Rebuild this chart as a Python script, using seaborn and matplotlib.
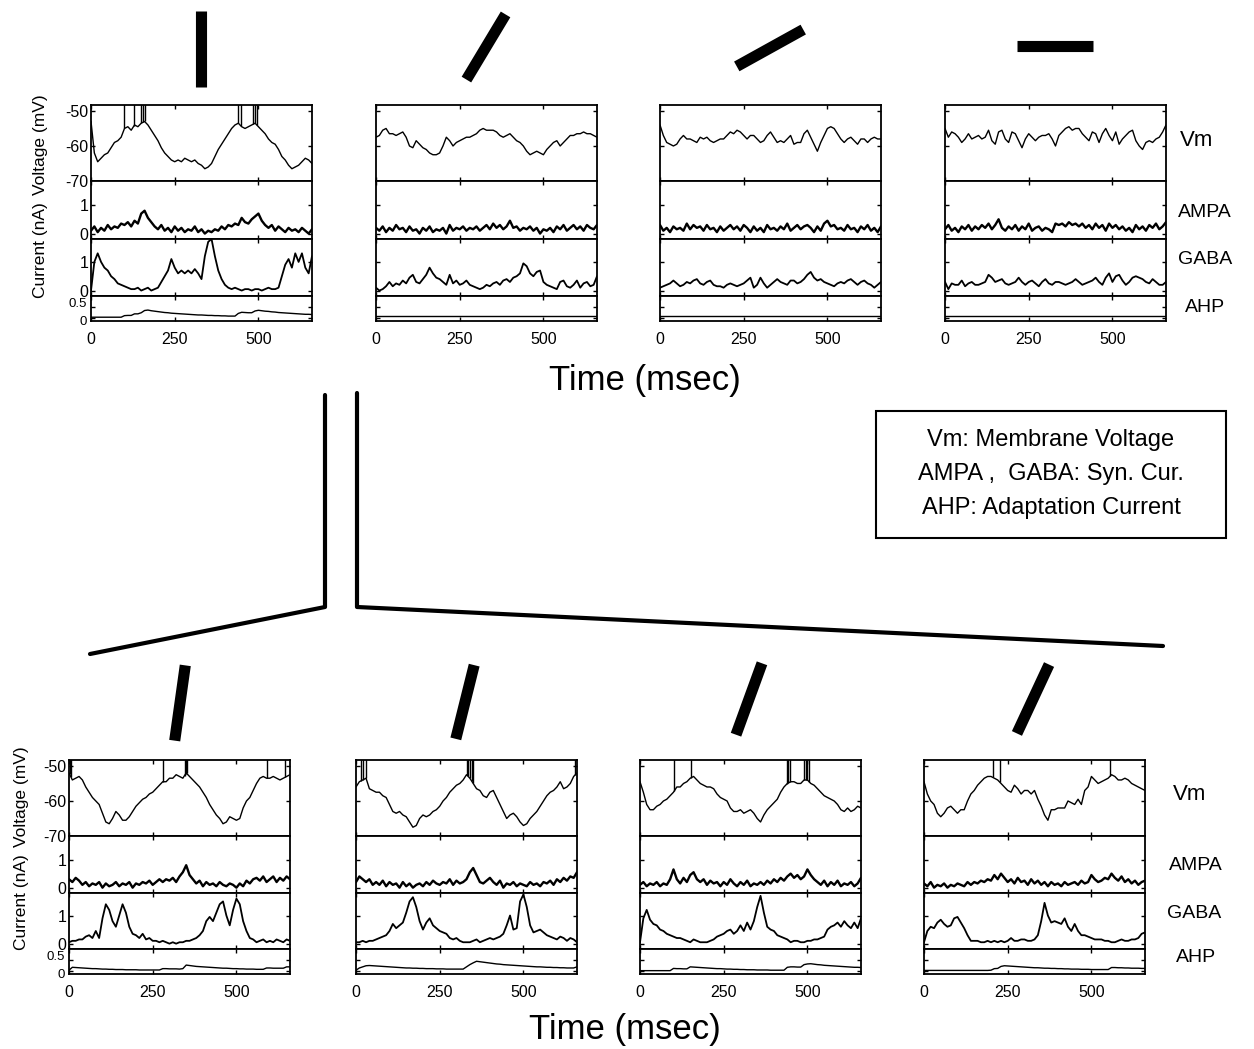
import numpy as np
import seaborn as sns
import matplotlib.pyplot as plt
from matplotlib.lines import Line2D
from matplotlib.patches import Rectangle

sns.set_style("ticks")
plt.rcParams['font.family'] = ['Liberation Sans', 'DejaVu Sans']
plt.rcParams['text.color'] = 'black'
plt.rcParams['xtick.color'] = 'black'
plt.rcParams['ytick.color'] = 'black'

# sampling grid of the traces (ms)
time_ms = np.arange(0, 661, 10)

# ---------------- top row (orientation changes) ----------------
top1_vm = [-53, -62, -64.5, -63.5, -62.5, -62, -60.5, -59, -58.5, -57.5,
           -55, -54.5, -55.5, -54, -54.5, -53.5, -53, -54, -55.5, -57,
           -58.5, -60.5, -62, -63, -64, -64.5, -64, -64.5, -63.5, -64,
           -64.5, -64, -65, -65.5, -66.5, -66, -65, -63, -61, -59.5,
           -58, -56.5, -55, -54, -53.5, -54.5, -55, -54.5, -54, -53.5,
           -54.5, -55.5, -56.5, -58, -59, -59.5, -61, -63, -64, -65.5,
           -66.5, -66, -65.5, -64.5, -63.5, -64, -65]
top1_ampa = [0.1, 0.25, 0.05, 0.2, 0.1, 0.3, 0.15, 0.25, 0.2, 0.35,
             0.3, 0.4, 0.25, 0.45, 0.35, 0.7, 0.8, 0.55, 0.4, 0.25,
             0.15, 0.3, 0.1, 0.2, 0.05, 0.25, 0.1, 0.2, 0.05, 0.15,
             0.1, 0.25, 0.05, 0.15, 0.0, 0.1, 0.05, 0.15, 0.1, 0.25,
             0.15, 0.3, 0.25, 0.35, 0.3, 0.55, 0.4, 0.35, 0.5, 0.6,
             0.7, 0.45, 0.3, 0.2, 0.3, 0.1, 0.25, 0.15, 0.05, 0.2,
             0.1, 0.15, 0.05, 0.2, 0.1, 0.0, 0.15]
top1_gaba = [0.0, 1.0, 1.3, 1.0, 0.8, 0.7, 0.5, 0.4, 0.25, 0.2,
             0.15, 0.1, 0.05, 0.05, 0.1, 0.0, 0.05, 0.1, 0.0, 0.05,
             0.1, 0.3, 0.5, 0.7, 1.1, 0.8, 0.6, 0.7, 0.6, 0.7,
             0.6, 0.75, 0.6, 0.4, 1.2, 1.7, 1.8, 1.2, 0.7, 0.4,
             0.2, 0.1, 0.05, 0.1, 0.05, 0.0, 0.05, 0.05, 0.0, 0.05,
             0.05, 0.0, 0.05, 0.1, 0.05, 0.05, 0.1, 0.5, 0.9, 1.1,
             0.8, 1.3, 1.0, 1.3, 0.8, 0.6, 1.2]
top1_ahp = [0.05, 0.05, 0.05, 0.05, 0.05, 0.05, 0.05, 0.05, 0.05, 0.05,
            0.12, 0.13, 0.13, 0.2, 0.2, 0.25, 0.35, 0.37, 0.34, 0.32,
            0.3, 0.28, 0.26, 0.25, 0.23, 0.22, 0.21, 0.2, 0.19, 0.18,
            0.17, 0.16, 0.15, 0.15, 0.14, 0.13, 0.13, 0.12, 0.12, 0.11,
            0.11, 0.1, 0.1, 0.1, 0.22, 0.27, 0.26, 0.25, 0.25, 0.33,
            0.36, 0.34, 0.32, 0.31, 0.29, 0.28, 0.26, 0.25, 0.24, 0.23,
            0.22, 0.21, 0.2, 0.19, 0.18, 0.18, 0.17]
top1_spikes = [100, 128, 150, 155, 160, 440, 448, 484, 490, 496]

top2_vm = [-57.5, -57, -55.5, -55, -56.5, -56.5, -57, -56.5, -56, -57.5,
           -60, -60.5, -58.5, -59.5, -60.5, -61, -62, -62.5, -62.5, -62,
           -60, -57.5, -58.5, -60, -59, -58.5, -58, -57.5, -57.5, -57,
           -56.5, -55.5, -55, -55.5, -55.5, -55.5, -56, -57, -57.5, -57,
           -56.5, -57.5, -58.5, -59, -60, -61.5, -62.5, -62, -61.5, -62,
           -62.5, -61, -60, -59, -58.5, -60, -59, -58, -57, -57,
           -56.5, -56.5, -56, -56.5, -56.5, -57, -57.5]
top2_ampa = [0.2, 0.1, 0.25, 0.05, 0.2, 0.1, 0.3, 0.15, 0.2, 0.05,
             0.25, 0.1, 0.15, 0.0, 0.2, 0.1, 0.25, 0.05, 0.15, 0.1,
             0.2, 0.0, 0.3, 0.1, 0.2, 0.15, 0.25, 0.1, 0.2, 0.15,
             0.25, 0.1, 0.2, 0.3, 0.15, 0.35, 0.2, 0.3, 0.15, 0.25,
             0.45, 0.2, 0.25, 0.1, 0.2, 0.15, 0.25, 0.1, 0.2, 0.0,
             0.15, 0.1, 0.2, 0.05, 0.25, 0.15, 0.3, 0.1, 0.2, 0.3,
             0.15, 0.25, 0.1, 0.3, 0.2, 0.15, 0.3]
top2_gaba = [0.1, 0.0, 0.05, 0.15, 0.3, 0.15, 0.25, 0.2, 0.35, 0.25,
             0.45, 0.55, 0.3, 0.25, 0.4, 0.55, 0.8, 0.6, 0.45, 0.4,
             0.3, 0.2, 0.55, 0.25, 0.35, 0.2, 0.25, 0.35, 0.2, 0.15,
             0.1, 0.05, 0.1, 0.2, 0.15, 0.25, 0.3, 0.2, 0.35, 0.4,
             0.3, 0.45, 0.5, 0.6, 0.95, 0.85, 0.6, 0.5, 0.65, 0.7,
             0.3, 0.2, 0.15, 0.1, 0.05, 0.3, 0.35, 0.15, 0.1, 0.2,
             0.35, 0.1, 0.25, 0.3, 0.15, 0.2, 0.5]
top2_ahp = [0.1, 0.1, 0.1, 0.1, 0.1, 0.1, 0.1, 0.1, 0.1, 0.1,
            0.1, 0.1, 0.1, 0.1, 0.1, 0.1, 0.1, 0.1, 0.1, 0.1,
            0.1, 0.1, 0.1, 0.1, 0.1, 0.1, 0.1, 0.1, 0.1, 0.1,
            0.1, 0.1, 0.1, 0.1, 0.1, 0.1, 0.1, 0.1, 0.1, 0.1,
            0.1, 0.1, 0.1, 0.1, 0.1, 0.1, 0.1, 0.1, 0.1, 0.1,
            0.1, 0.1, 0.1, 0.1, 0.1, 0.1, 0.1, 0.1, 0.1, 0.1,
            0.1, 0.1, 0.1, 0.1, 0.1, 0.1, 0.1]
top2_spikes = []

top3_vm = [-54, -57, -59, -59.5, -60, -59.5, -58, -57, -58, -58,
           -58.5, -59, -57.5, -58, -57.5, -58.5, -59, -58.5, -58, -58,
           -57, -56, -56.5, -55.5, -56, -57, -58, -57, -57, -58,
           -59, -58.5, -57, -56, -57.5, -59, -58.5, -59, -58, -57,
           -59.5, -59, -59, -56.5, -55.5, -57.5, -59.5, -61.5, -59, -57,
           -55, -54.5, -55, -56.5, -58, -59, -58, -57.5, -58.5, -59.5,
           -58, -58, -59, -58, -57.5, -58, -58]
top3_ampa = [0.3, 0.1, 0.2, 0.05, 0.25, 0.15, 0.2, 0.1, 0.35, 0.15,
             0.3, 0.2, 0.25, 0.1, 0.3, 0.15, 0.2, 0.05, 0.25, 0.1,
             0.2, 0.3, 0.15, 0.25, 0.1, 0.3, 0.2, 0.05, 0.25, 0.1,
             0.2, 0.05, 0.3, 0.15, 0.2, 0.1, 0.25, 0.15, 0.35, 0.1,
             0.2, 0.3, 0.15, 0.25, 0.3, 0.2, 0.05, 0.25, 0.1, 0.35,
             0.45, 0.25, 0.3, 0.15, 0.2, 0.1, 0.3, 0.15, 0.2, 0.05,
             0.25, 0.15, 0.3, 0.1, 0.2, 0.05, 0.25]
top3_gaba = [0.1, 0.15, 0.2, 0.25, 0.35, 0.25, 0.15, 0.2, 0.3, 0.25,
             0.35, 0.4, 0.25, 0.2, 0.3, 0.35, 0.2, 0.15, 0.15, 0.1,
             0.2, 0.25, 0.2, 0.15, 0.2, 0.25, 0.35, 0.45, 0.1, 0.2,
             0.45, 0.25, 0.1, 0.2, 0.3, 0.4, 0.3, 0.25, 0.2, 0.35,
             0.35, 0.25, 0.3, 0.4, 0.55, 0.65, 0.45, 0.35, 0.4, 0.3,
             0.25, 0.2, 0.15, 0.25, 0.3, 0.25, 0.35, 0.4, 0.3, 0.2,
             0.3, 0.35, 0.25, 0.2, 0.1, 0.2, 0.3]
top3_ahp = [0.1, 0.1, 0.1, 0.1, 0.1, 0.1, 0.1, 0.1, 0.1, 0.1,
            0.1, 0.1, 0.1, 0.1, 0.1, 0.1, 0.1, 0.1, 0.1, 0.1,
            0.1, 0.1, 0.1, 0.1, 0.1, 0.1, 0.1, 0.1, 0.1, 0.1,
            0.1, 0.1, 0.1, 0.1, 0.1, 0.1, 0.1, 0.1, 0.1, 0.1,
            0.1, 0.1, 0.1, 0.1, 0.1, 0.1, 0.1, 0.1, 0.1, 0.1,
            0.1, 0.1, 0.1, 0.1, 0.1, 0.1, 0.1, 0.1, 0.1, 0.1,
            0.1, 0.1, 0.1, 0.1, 0.1, 0.1, 0.1]
top3_spikes = []

top4_vm = [-55, -57.5, -56, -56.5, -57.5, -59, -58, -56.5, -58, -57.5,
           -57, -58, -57.5, -55.5, -58.5, -59.5, -56, -55.5, -58, -59,
           -56, -56.5, -58.5, -60.5, -58, -56.5, -57.5, -58.5, -57.5, -57,
           -57, -56.5, -58, -60, -57, -56, -55, -54.5, -55.5, -55,
           -55, -56.5, -57.5, -58.5, -56, -56.5, -59, -56.5, -55, -57,
           -58.5, -56, -59.5, -58, -57, -56, -55.5, -58.5, -60, -61,
           -59, -58.5, -59, -58, -57.5, -56, -54]
top4_ampa = [0.15, 0.3, 0.1, 0.2, 0.05, 0.25, 0.15, 0.3, 0.1, 0.25,
             0.15, 0.3, 0.2, 0.35, 0.15, 0.3, 0.5, 0.2, 0.1, 0.25,
             0.15, 0.3, 0.1, 0.25, 0.15, 0.35, 0.1, 0.2, 0.25, 0.1,
             0.2, 0.15, 0.05, 0.35, 0.3, 0.35, 0.25, 0.4, 0.3, 0.35,
             0.25, 0.35, 0.2, 0.3, 0.15, 0.35, 0.2, 0.3, 0.1, 0.35,
             0.2, 0.3, 0.15, 0.25, 0.1, 0.2, 0.05, 0.3, 0.15, 0.25,
             0.1, 0.3, 0.2, 0.35, 0.15, 0.25, 0.4]
top4_gaba = [0.3, 0.05, 0.25, 0.2, 0.2, 0.35, 0.15, 0.25, 0.3, 0.2,
             0.2, 0.25, 0.3, 0.55, 0.45, 0.3, 0.35, 0.4, 0.25, 0.2,
             0.25, 0.3, 0.45, 0.3, 0.2, 0.3, 0.35, 0.25, 0.15, 0.3,
             0.4, 0.25, 0.2, 0.3, 0.3, 0.25, 0.2, 0.25, 0.3, 0.4,
             0.3, 0.2, 0.25, 0.3, 0.35, 0.45, 0.3, 0.2, 0.45, 0.6,
             0.3, 0.5, 0.55, 0.35, 0.2, 0.3, 0.45, 0.5, 0.45, 0.4,
             0.3, 0.25, 0.4, 0.3, 0.2, 0.2, 0.3]
top4_ahp = [0.1, 0.1, 0.1, 0.1, 0.1, 0.1, 0.1, 0.1, 0.1, 0.1,
            0.1, 0.1, 0.1, 0.1, 0.1, 0.1, 0.1, 0.1, 0.1, 0.1,
            0.1, 0.1, 0.1, 0.1, 0.1, 0.1, 0.1, 0.1, 0.1, 0.1,
            0.1, 0.1, 0.1, 0.1, 0.1, 0.1, 0.1, 0.1, 0.1, 0.1,
            0.1, 0.1, 0.1, 0.1, 0.1, 0.1, 0.1, 0.1, 0.1, 0.1,
            0.1, 0.1, 0.1, 0.1, 0.1, 0.1, 0.1, 0.1, 0.1, 0.1,
            0.1, 0.1, 0.1, 0.1, 0.1, 0.1, 0.1]
top4_spikes = []

# ---------------- bottom row (position changes) ----------------
bot1_vm = [-52, -54, -53.5, -53, -54, -56, -57.5, -59, -60, -61,
           -63.5, -66, -66.5, -65, -63, -64, -65.5, -65.5, -64.5, -63,
           -61.5, -60.5, -59.5, -59, -58, -57.5, -56.5, -55.5, -54.5, -54.5,
           -53.5, -53.5, -52.5, -53, -53.5, -52, -53, -54, -55, -56,
           -57.5, -59, -61, -62.5, -64, -65, -66.5, -66, -64.5, -65,
           -65.5, -65, -62, -60, -59, -57, -55, -53.5, -53, -53.5,
           -53.5, -53, -53.5, -54, -53.5, -53, -52.5]
bot1_ampa = [0.3, 0.2, 0.35, 0.25, 0.1, 0.2, 0.05, 0.15, 0.1, 0.2,
             0.0, 0.15, 0.05, 0.1, 0.2, 0.05, 0.15, 0.1, 0.2, 0.0,
             0.15, 0.1, 0.2, 0.15, 0.25, 0.1, 0.2, 0.3, 0.2, 0.3,
             0.25, 0.35, 0.2, 0.4, 0.55, 0.8, 0.45, 0.3, 0.15, 0.25,
             0.05, 0.2, 0.1, 0.15, 0.05, 0.2, 0.1, 0.05, 0.15, 0.1,
             0.0, 0.15, 0.05, 0.25, 0.15, 0.3, 0.35, 0.25, 0.4, 0.2,
             0.3, 0.4, 0.2, 0.35, 0.25, 0.4, 0.3]
bot1_gaba = [0.05, 0.1, 0.1, 0.15, 0.15, 0.25, 0.3, 0.2, 0.45, 0.2,
             0.9, 1.4, 1.2, 0.8, 0.6, 1.0, 1.4, 1.1, 0.6, 0.35,
             0.3, 0.2, 0.35, 0.15, 0.2, 0.1, 0.1, 0.05, 0.1, 0.05,
             0.0, 0.05, 0.0, 0.05, 0.05, 0.1, 0.1, 0.15, 0.2, 0.3,
             0.45, 0.8, 0.95, 0.8, 1.1, 1.4, 1.5, 1.0, 0.65, 1.2,
             1.6, 1.4, 0.8, 0.45, 0.2, 0.15, 0.05, 0.1, 0.15, 0.05,
             0.1, 0.05, 0.15, 0.1, 0.05, 0.15, 0.1]
bot1_ahp = [0.05, 0.18, 0.17, 0.16, 0.15, 0.14, 0.13, 0.12, 0.12, 0.11,
            0.1, 0.1, 0.09, 0.09, 0.08, 0.08, 0.08, 0.07, 0.07, 0.07,
            0.07, 0.06, 0.06, 0.06, 0.06, 0.06, 0.06, 0.06, 0.12, 0.12,
            0.11, 0.11, 0.11, 0.1, 0.12, 0.28, 0.26, 0.24, 0.22, 0.21,
            0.2, 0.19, 0.18, 0.17, 0.16, 0.15, 0.14, 0.14, 0.13, 0.12,
            0.12, 0.11, 0.11, 0.1, 0.1, 0.1, 0.09, 0.09, 0.09, 0.15,
            0.15, 0.14, 0.14, 0.14, 0.14, 0.2, 0.2]
bot1_spikes = [2, 6, 282, 345, 348, 351, 590, 645]

bot2_vm = [-56, -54.5, -54, -53.5, -56.5, -57, -57.5, -57.5, -58.5, -59,
           -61, -63, -63.5, -63, -64, -64.5, -66, -67.5, -67, -65,
           -64, -64.5, -64, -63, -62.5, -61.5, -60, -59, -57.5, -56.5,
           -55.5, -55, -54, -52.5, -53.5, -55, -56.5, -57, -58.5, -59,
           -57.5, -57, -59, -61, -63, -65, -64, -63.5, -64.5, -66,
           -67, -66.5, -65, -64, -63, -61.5, -60, -58.5, -57.5, -57,
           -56, -54.5, -56.5, -56, -55, -53, -52]
bot2_ampa = [0.2, 0.4, 0.3, 0.2, 0.3, 0.1, 0.2, 0.1, 0.25, 0.05,
             0.2, 0.1, 0.15, 0.0, 0.2, 0.05, 0.15, 0.0, 0.1, 0.15,
             0.05, 0.2, 0.1, 0.25, 0.15, 0.1, 0.2, 0.15, 0.3, 0.1,
             0.25, 0.15, 0.2, 0.3, 0.55, 0.7, 0.45, 0.2, 0.15, 0.25,
             0.35, 0.2, 0.1, 0.25, 0.0, 0.15, 0.1, 0.2, 0.05, 0.15,
             0.1, 0.05, 0.2, 0.1, 0.15, 0.05, 0.2, 0.15, 0.25, 0.1,
             0.3, 0.2, 0.35, 0.25, 0.4, 0.35, 0.55]
bot2_gaba = [0.05, 0.05, 0.1, 0.05, 0.1, 0.1, 0.15, 0.2, 0.25, 0.3,
             0.45, 0.7, 0.55, 0.65, 0.75, 1.1, 1.5, 1.65, 1.3, 0.8,
             0.5, 0.75, 0.9, 0.65, 0.55, 0.45, 0.4, 0.35, 0.2, 0.15,
             0.2, 0.1, 0.05, 0.05, 0.05, 0.1, 0.15, 0.05, 0.1, 0.15,
             0.2, 0.15, 0.2, 0.25, 0.35, 0.65, 1.0, 0.5, 0.55, 1.5,
             1.75, 1.3, 0.65, 0.4, 0.45, 0.5, 0.4, 0.3, 0.25, 0.2,
             0.15, 0.25, 0.2, 0.1, 0.2, 0.15, 0.05]
bot2_ahp = [0.05, 0.15, 0.2, 0.25, 0.26, 0.25, 0.24, 0.23, 0.22, 0.21,
            0.2, 0.19, 0.18, 0.17, 0.16, 0.15, 0.15, 0.14, 0.14, 0.13,
            0.13, 0.12, 0.12, 0.12, 0.11, 0.11, 0.11, 0.1, 0.1, 0.1,
            0.1, 0.1, 0.1, 0.2, 0.3, 0.38, 0.45, 0.43, 0.41, 0.39,
            0.37, 0.35, 0.33, 0.32, 0.3, 0.29, 0.28, 0.27, 0.26, 0.25,
            0.24, 0.23, 0.22, 0.21, 0.2, 0.2, 0.19, 0.18, 0.18, 0.17,
            0.17, 0.16, 0.16, 0.15, 0.15, 0.15, 0.2]
bot2_spikes = [15, 22, 30, 330, 335, 340, 345, 350, 655]

bot3_vm = [-54.5, -57.5, -61, -62.5, -62.5, -61.5, -61, -60, -59.5, -58.5,
           -57.5, -56, -56, -55, -54.5, -53.5, -53, -54, -55, -55.5,
           -56, -56, -56.5, -58, -59, -59.5, -60, -62, -63, -63,
           -62.5, -63.5, -63, -62.5, -63.5, -65, -66, -64, -62.5, -61.5,
           -60.5, -59.5, -57.5, -56, -55, -54.5, -54.5, -55, -55, -54,
           -54, -55, -55.5, -56.5, -57.5, -58.5, -59, -59.5, -60, -61,
           -62.5, -63, -62, -63, -62.5, -61.5, -62]
bot3_ampa = [0.1, 0.2, 0.05, 0.15, 0.1, 0.2, 0.05, 0.15, 0.1, 0.3,
             0.65, 0.3, 0.15, 0.35, 0.2, 0.45, 0.55, 0.3, 0.2, 0.3,
             0.1, 0.25, 0.15, 0.2, 0.05, 0.2, 0.1, 0.3, 0.15, 0.05,
             0.2, 0.1, 0.25, 0.05, 0.15, 0.1, 0.2, 0.1, 0.25, 0.15,
             0.3, 0.2, 0.35, 0.25, 0.4, 0.5, 0.35, 0.45, 0.3, 0.4,
             0.65, 0.45, 0.3, 0.2, 0.1, 0.25, 0.05, 0.2, 0.1, 0.25,
             0.05, 0.15, 0.1, 0.2, 0.05, 0.15, 0.35]
bot3_gaba = [0.05, 0.9, 1.2, 0.85, 0.7, 0.65, 0.5, 0.45, 0.35, 0.3,
             0.25, 0.2, 0.2, 0.15, 0.1, 0.05, 0.15, 0.1, 0.05, 0.05,
             0.05, 0.1, 0.15, 0.25, 0.3, 0.35, 0.45, 0.5, 0.35, 0.45,
             0.65, 0.45, 0.75, 0.5, 0.8, 1.3, 1.7, 1.1, 0.6, 0.5,
             0.45, 0.3, 0.25, 0.2, 0.15, 0.05, 0.1, 0.1, 0.05, 0.05,
             0.1, 0.1, 0.15, 0.15, 0.2, 0.25, 0.5, 0.6, 0.65, 0.75,
             0.6, 0.8, 0.65, 0.55, 0.75, 0.55, 0.9]
bot3_ahp = [0.03, 0.03, 0.03, 0.03, 0.03, 0.03, 0.03, 0.03, 0.03, 0.03,
            0.13, 0.12, 0.12, 0.11, 0.11, 0.2, 0.19, 0.18, 0.17, 0.16,
            0.15, 0.14, 0.13, 0.12, 0.12, 0.11, 0.1, 0.1, 0.09, 0.09,
            0.08, 0.08, 0.07, 0.07, 0.07, 0.06, 0.06, 0.06, 0.06, 0.05,
            0.05, 0.05, 0.05, 0.05, 0.18, 0.2, 0.2, 0.19, 0.19, 0.3,
            0.33, 0.34, 0.32, 0.3, 0.29, 0.27, 0.26, 0.25, 0.24, 0.23,
            0.22, 0.21, 0.2, 0.19, 0.18, 0.18, 0.17]
bot3_spikes = [102, 152, 438, 443, 448, 490, 495, 500, 505]

bot4_vm = [-54.5, -58, -60, -61, -63.5, -64.5, -63.5, -62, -61.5, -62.5,
           -63.5, -62.5, -62.5, -60, -58, -57, -55.5, -54.5, -53.5, -53,
           -53, -53.5, -54, -55, -56, -57, -57.5, -55.5, -56.5, -58,
           -57, -57, -58, -57, -59.5, -61.5, -64, -65.5, -62.5, -62.5,
           -62, -62, -62, -60, -60.5, -61, -59.5, -61, -57, -56,
           -53, -54, -55, -54.5, -54, -53.5, -52.5, -53, -54, -54,
           -53.5, -54, -55, -55.5, -56, -56.5, -57]
bot4_ampa = [0.15, 0.05, 0.2, 0.0, 0.1, 0.05, 0.15, 0.0, 0.1, 0.05,
             0.15, 0.1, 0.05, 0.2, 0.1, 0.2, 0.15, 0.25, 0.2, 0.3,
             0.25, 0.45, 0.3, 0.5, 0.35, 0.2, 0.3, 0.15, 0.35, 0.2,
             0.25, 0.1, 0.3, 0.15, 0.25, 0.1, 0.2, 0.05, 0.2, 0.1,
             0.15, 0.05, 0.2, 0.1, 0.15, 0.2, 0.1, 0.25, 0.15, 0.2,
             0.45, 0.3, 0.2, 0.25, 0.35, 0.3, 0.5, 0.35, 0.25, 0.4,
             0.2, 0.3, 0.15, 0.25, 0.1, 0.2, 0.25]
bot4_gaba = [0.05, 0.45, 0.6, 0.55, 0.75, 0.85, 0.7, 0.6, 0.65, 0.9,
             0.95, 0.75, 0.55, 0.3, 0.1, 0.1, 0.1, 0.05, 0.05, 0.1,
             0.05, 0.1, 0.05, 0.1, 0.05, 0.1, 0.2, 0.1, 0.1, 0.15,
             0.15, 0.1, 0.1, 0.15, 0.3, 0.8, 1.45, 1.0, 0.75, 0.8,
             0.75, 0.7, 0.9, 0.6, 0.45, 0.7, 0.45, 0.3, 0.3, 0.25,
             0.2, 0.15, 0.15, 0.15, 0.1, 0.1, 0.05, 0.05, 0.1, 0.15,
             0.1, 0.1, 0.15, 0.15, 0.2, 0.35, 0.4]
bot4_ahp = [0.04, 0.04, 0.04, 0.04, 0.04, 0.04, 0.04, 0.04, 0.04, 0.04,
            0.04, 0.04, 0.04, 0.04, 0.04, 0.04, 0.04, 0.04, 0.04, 0.04,
            0.05, 0.12, 0.13, 0.22, 0.25, 0.24, 0.23, 0.22, 0.21, 0.2,
            0.19, 0.18, 0.17, 0.16, 0.16, 0.15, 0.14, 0.14, 0.13, 0.13,
            0.12, 0.12, 0.11, 0.11, 0.1, 0.1, 0.1, 0.09, 0.09, 0.09,
            0.08, 0.08, 0.08, 0.08, 0.08, 0.08, 0.17, 0.17, 0.16, 0.16,
            0.15, 0.15, 0.14, 0.14, 0.14, 0.13, 0.13]
bot4_spikes = [205, 227, 555]

# orientation of the stimulus bars (degrees from horizontal)
top_bar_angles = [90, 59, 29, 0]
bot_bar_angles = [82, 76, 70, 65]

trace_names = ["Vm", "AMPA", "GABA", "AHP"]
legend_lines = ["Vm: Membrane Voltage", "AMPA ,  GABA: Syn. Cur.", "AHP: Adaptation Current"]

top_panels = [
    ([top1_vm, top1_ampa, top1_gaba, top1_ahp], top1_spikes),
    ([top2_vm, top2_ampa, top2_gaba, top2_ahp], top2_spikes),
    ([top3_vm, top3_ampa, top3_gaba, top3_ahp], top3_spikes),
    ([top4_vm, top4_ampa, top4_gaba, top4_ahp], top4_spikes),
]
bot_panels = [
    ([bot1_vm, bot1_ampa, bot1_gaba, bot1_ahp], bot1_spikes),
    ([bot2_vm, bot2_ampa, bot2_gaba, bot2_ahp], bot2_spikes),
    ([bot3_vm, bot3_ampa, bot3_gaba, bot3_ahp], bot3_spikes),
    ([bot4_vm, bot4_ampa, bot4_gaba, bot4_ahp], bot4_spikes),
]

# ---------------- layout (pixels) ----------------
W, H = 1254, 1049
fig = plt.figure(figsize=(W / 100, H / 100), dpi=100)


def px_rect(x0, y0, x1, y1):
    return [x0 / W, 1 - y1 / H, (x1 - x0) / W, (y1 - y0) / H]


def fx(x):
    return x / W


def fy(y):
    return 1 - y / H


ylims = [(-70, -48.3), (-0.19, 1.84), (-0.19, 1.8), (-0.12, 1.0)]
yticks = [[-70, -60, -50], [0, 1], [0, 1], [0, 0.5]]
yticklabels = [["-70", "-60", "-50"], ["0", "1"], ["0", "1"], ["0", "0.5"]]
widths = [1.0, 1.7, 1.3, 1.0]


def draw_row(panels, lefts, ybounds, width=221):
    for p, (traces, spikes) in enumerate(panels):
        x0 = lefts[p]
        for k in range(4):
            ax = fig.add_axes(px_rect(x0, ybounds[k], x0 + width, ybounds[k + 1]))
            sns.lineplot(x=time_ms, y=traces[k], ax=ax, color="black",
                         linewidth=widths[k], estimator=None)
            if k == 0 and spikes:
                base = np.interp(spikes, time_ms, traces[0])
                ax.vlines(spikes, base, -40, color="black", linewidth=1.0)
            ax.set_xlim(0, 660)
            ax.set_ylim(*ylims[k])
            ax.set_xlabel("")
            ax.set_ylabel("")
            ax.set_xticks([0, 250, 500])
            ax.set_yticks(yticks[k])
            ax.tick_params(direction="in", length=3, width=1, top=True, right=True,
                           labelsize=11.5, pad=3)
            ax.tick_params(axis="y", pad=2)
            if k == 3:
                ax.set_xticklabels(["0", "250", "500"])
                ax.tick_params(axis="x", pad=8)
            else:
                ax.set_xticklabels([])
            ax.set_yticklabels([])
            if p == 0:
                if k < 3:
                    ax.set_yticklabels(yticklabels[k])
                else:
                    # the two AHP labels sit very close: place them by hand, nudged apart
                    for val, lab, dy in zip(yticks[k], yticklabels[k], [-2.5, 2.0]):
                        ax.annotate(lab, xy=(0, val), xycoords=("axes fraction", "data"),
                                    xytext=(-3, dy), textcoords="offset points",
                                    ha="right", va="center", fontsize=9.5)
            for s in ax.spines.values():
                s.set_linewidth(1.3)
                s.set_color("black")


top_lefts = [91, 376, 660, 945]
top_y = [105, 181, 239, 296, 321]
bot_lefts = [69, 356, 640, 924]
bot_y = [760, 836, 893, 949, 974]

draw_row(top_panels, top_lefts, top_y)
draw_row(bot_panels, bot_lefts, bot_y)

# y-axis labels
for x, yv, yc in [(40, 145, 250), (22, 797, 902)]:
    fig.text(fx(x), fy(yv), "Voltage (mV)", rotation=90, ha="center", va="center", fontsize=12.5)
    fig.text(fx(x), fy(yc), "Current (nA)", rotation=90, ha="center", va="center", fontsize=12.5)

# trace names on the right
for name, (x, y) in zip(trace_names, [(1197, 141), (1205, 212), (1205, 260), (1205, 307)]):
    fig.text(fx(x), fy(y), name, ha="center", va="center", fontsize=16 if name == "Vm" else 14)
for name, (x, y) in zip(trace_names, [(1190, 795), (1196, 866), (1194, 913), (1196, 958)]):
    fig.text(fx(x), fy(y), name, ha="center", va="center", fontsize=16 if name == "Vm" else 14)

# time labels
fig.text(fx(645), fy(380), "Time (msec)", ha="center", va="center", fontsize=25)
fig.text(fx(625), fy(1030), "Time (msec)", ha="center", va="center", fontsize=25)

# stimulus bars
bar_len = 76
for ang, (cx, cy) in zip(top_bar_angles, [(201, 49), (486, 47), (770, 48), (1055, 46)]):
    dx = bar_len / 2 * np.cos(np.radians(ang))
    dy = bar_len / 2 * np.sin(np.radians(ang))
    fig.add_artist(Line2D([fx(cx - dx), fx(cx + dx)], [fy(cy + dy), fy(cy - dy)],
                          color="black", linewidth=8, solid_capstyle="butt"))
for ang, (cx, cy) in zip(bot_bar_angles, [(180, 703), (465, 702), (749, 699), (1033, 699)]):
    dx = bar_len / 2 * np.cos(np.radians(ang))
    dy = bar_len / 2 * np.sin(np.radians(ang))
    fig.add_artist(Line2D([fx(cx - dx), fx(cx + dx)], [fy(cy + dy), fy(cy - dy)],
                          color="black", linewidth=8, solid_capstyle="butt"))

# connecting lines between the two rows
fig.add_artist(Line2D([fx(325), fx(325), fx(90)], [fy(395), fy(607), fy(654)],
                      color="black", linewidth=3))
fig.add_artist(Line2D([fx(357), fx(357), fx(1163)], [fy(393), fy(607), fy(646)],
                      color="black", linewidth=3))

# legend box
fig.add_artist(Rectangle((fx(876), fy(538)), fx(1226) - fx(876), fy(411) - fy(538),
                         fill=False, edgecolor="black", linewidth=1.5))
for line, y in zip(legend_lines, [440, 474, 508]):
    fig.text(fx(1051), fy(y), line, ha="center", va="center", fontsize=17)

fig.savefig("out.png", dpi=100)
